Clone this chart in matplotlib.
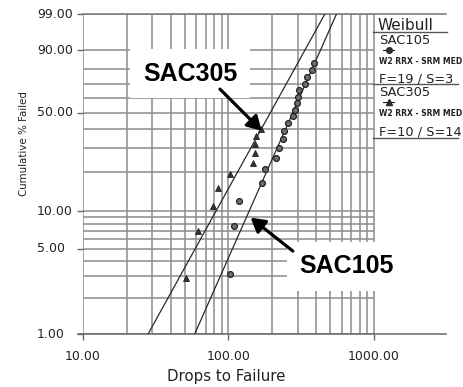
import numpy as np
import matplotlib
matplotlib.use('Agg')
import matplotlib.pyplot as plt
from matplotlib.lines import Line2D
from matplotlib.ticker import NullLocator

# ---------------- data ----------------
x_ticks = [10, 100, 1000]
x_tick_labels = ['10.00', '100.00', '1000.00']
y_ticks = [1, 5, 10, 50, 90, 99]
y_tick_labels = ['1.00', '5.00', '10.00', '50.00', '90.00', '99.00']
x_grid = [10, 20, 30, 40, 50, 60, 70, 80, 90, 100,
          200, 300, 400, 500, 600, 700, 800, 900, 1000]
y_grid = [1, 2, 3, 4, 5, 6, 7, 8, 9, 10, 20, 30, 40, 50, 60, 70, 80, 90, 99]

sac105_drops = [103, 110, 118, 169, 179, 212, 223, 236, 242, 258,
                276, 288, 296, 302, 306, 334, 346, 374, 388]
sac105_pct = [3.13, 7.59, 12.05, 16.52, 20.98, 25.45, 29.91, 34.38, 38.84, 43.30,
              47.77, 52.23, 56.70, 61.16, 65.63, 70.09, 74.55, 79.02, 83.48]
sac305_drops = [51, 62, 78, 85, 102, 147, 152, 152, 155, 167]
sac305_pct = [2.87, 6.97, 11.07, 15.2, 19.3, 23.4, 27.5, 31.6, 35.7, 39.8]

sac105_beta, sac105_eta = 2.73, 316.0
sac305_beta, sac305_eta = 2.19, 229.0
fit_pct_range = [1, 99]

legend_title = 'Weibull'
legend_entries = [('SAC105', 'W2 RRX - SRM MED', 'F=19 / S=3', 'o'),
                  ('SAC305', 'W2 RRX - SRM MED', 'F=10 / S=14', '^')]

# ---------------- figure ----------------
W, H = 463, 387
fig = plt.figure(figsize=(W / 100, H / 100), dpi=100)
fig.patch.set_facecolor('white')


def P(px, py):
    return (px / W, 1 - py / H)


ax = fig.add_axes([83 / W, (H - 334) / H, (446 - 83) / W, (334 - 14) / H])


def fwd(p):
    p = np.clip(np.asarray(p, dtype=float), 1e-6, 100 - 1e-6)
    return np.log(-np.log(1 - p / 100.0))


def inv(w):
    return 100.0 * (1 - np.exp(-np.exp(np.asarray(w, dtype=float))))


ax.set_xscale('log')
ax.set_yscale('function', functions=(fwd, inv))
ax.set_xlim(10, 3130)
ax.set_ylim(1, 99)
for s in ax.spines.values():
    s.set_visible(False)

grid_c = '#8c8c8c'
ax.vlines(x_grid, 1, 99, colors=grid_c, lw=1.1, zorder=1)
ax.hlines(y_grid, 10, 1000, colors=grid_c, lw=1.1, zorder=1)
# top and bottom frame lines
ax.plot([0, 1], [1, 1], transform=ax.transAxes, color='#777777', lw=1.1,
        clip_on=False, zorder=1)
ax.plot([-5 / 363, 1], [0, 0], transform=ax.transAxes, color='#666666', lw=1.1,
        clip_on=False, zorder=1)

# ticks
ax.set_xticks(x_ticks)
ax.set_xticklabels(x_tick_labels, fontsize=9, family='DejaVu Sans', color='#222222')
ax.xaxis.set_minor_locator(NullLocator())
ax.tick_params(axis='x', length=4, width=1, color='#666666', pad=7.5, direction='out')
ax.set_yticks(y_ticks)
ax.set_yticklabels([])
ax.yaxis.set_minor_locator(NullLocator())
ax.tick_params(axis='y', length=4, width=1, color='#666666', direction='out')
for v, lab in zip(y_ticks, y_tick_labels):
    ax.text(-46 / 363, v, lab, transform=ax.get_yaxis_transform(), ha='left',
            va='center', fontsize=9, family='DejaVu Sans', color='#222222')

fig.text(*P(226, 376), 'Drops to Failure', ha='center', va='center',
         fontsize=10.8, family='DejaVu Sans', color='#222222')
fig.text(*P(24, 144), 'Cumulative % Failed', ha='center', va='center',
         rotation=90, fontsize=7.4, family='DejaVu Sans', color='#222222')

# fitted Weibull lines
for beta, eta in [(sac305_beta, sac305_eta), (sac105_beta, sac105_eta)]:
    p = np.array(fit_pct_range, dtype=float)
    xs = eta * (-np.log(1 - p / 100.0)) ** (1.0 / beta)
    ax.plot(xs, p, color='#2a2a2a', lw=0.9, zorder=2)

# data points
ax.plot(sac105_drops, sac105_pct, linestyle='none', marker='o', ms=4.2,
        mfc='#6e6e6e', mec='#222222', mew=0.9, zorder=4)
ax.plot(sac305_drops, sac305_pct, linestyle='none', marker='^', ms=4.0,
        mfc='#333333', mec='#222222', mew=0.6, zorder=4)

# callouts
lab_kw = dict(fontsize=18, fontweight='bold', family='Liberation Sans',
              ha='center', va='center', color='black',
              bbox=dict(boxstyle='square,pad=0.5', fc='white', ec='none'), zorder=3)
ax.text(54.4, 76.8, 'SAC305', **lab_kw)
ax.text(652, 3.6, 'SAC105', clip_on=False, **lab_kw)
arr = dict(arrowstyle='-|>,head_length=0.6,head_width=0.35', lw=2.3, color='black',
           mutation_scale=14, shrinkA=0, shrinkB=0)
ax.annotate('', xy=(169, 38.9), xytext=(87.4, 66.5), arrowprops=arr, zorder=6)
ax.annotate('', xy=(142, 8.9), xytext=(277, 4.8), arrowprops=arr, zorder=6)

# legend panel
def hline(x0, x1, y, lw=1.0, c='#555555'):
    a, b = P(x0, y)
    c2, _ = P(x1, y)
    fig.add_artist(Line2D([a, c2], [b, b], transform=fig.transFigure, color=c, lw=lw))


txt_c = '#222222'
fig.text(*P(378, 26), legend_title, fontsize=11, family='DejaVu Sans',
         ha='left', va='center', color=txt_c)
hline(373, 447, 32)
rows = [(41, 50, 62, 79, 84), (93, 102, 113, 132, 138)]
for (name, desc, fs, mk), (yn, ym, yd, yf, yu) in zip(legend_entries, rows):
    fig.text(*P(379, yn), name, fontsize=9.4, family='DejaVu Sans', ha='left',
             va='center', color=txt_c)
    hline(383, 394, ym, lw=0.8, c='#222222')
    mx, my = P(388.5, ym)
    fig.add_artist(Line2D([mx], [my], transform=fig.transFigure, marker=mk,
                          ms=4, mfc='#333333', mec='#222222', linestyle='none'))
    fig.text(*P(379, yd), desc, fontsize=5.5, fontweight='bold', family='DejaVu Sans',
             ha='left', va='center', color=txt_c)
    fig.text(*P(379, yf), fs, fontsize=9.3, family='DejaVu Sans', ha='left',
             va='center', color=txt_c)
    hline(373, 458, yu)

fig.savefig('out.png', dpi=100, facecolor='white')
